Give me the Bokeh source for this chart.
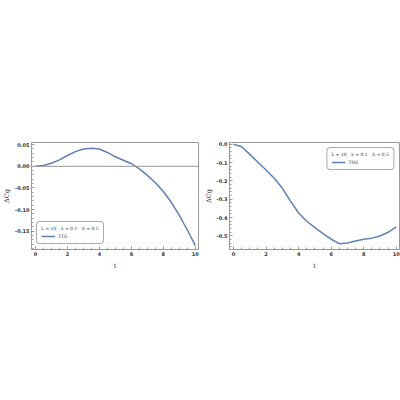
from bokeh.plotting import figure
from bokeh.layouts import row
from bokeh.models import Legend, LegendItem, Span, FixedTicker, PrintfTickFormatter, Range1d
from bokeh.embed import file_html
from bokeh.resources import INLINE

t = [0, 0.5, 1, 1.5, 2, 2.5, 3, 3.5, 4, 4.5, 5, 5.5, 6, 6.5, 7, 7.5, 8, 8.5, 9, 9.5, 10]
tts = [0, 0.002, 0.007, 0.015, 0.025, 0.034, 0.040, 0.042, 0.040, 0.032, 0.022, 0.014,
       0.006, -0.006, -0.021, -0.038, -0.058, -0.083, -0.113, -0.147, -0.183]
tns = [0, -0.013, -0.055, -0.098, -0.14, -0.185, -0.24, -0.31, -0.375, -0.42, -0.455,
       -0.487, -0.518, -0.542, -0.538, -0.528, -0.518, -0.512, -0.5, -0.48, -0.45]
x_ticks = [0, 2, 4, 6, 8, 10]
x_minor = [i * 0.5 for i in range(0, 21)]
left_yticks = [0.05, 0.0, -0.05, -0.10, -0.15]
left_yminor = [round(0.05 - 0.01 * i, 2) for i in range(0, 25)]
right_yticks = [0.0, -0.1, -0.2, -0.3, -0.4, -0.5]
right_yminor = [round(-0.02 * i, 2) for i in range(0, 29)]
legend_title = "L = 10   λ = 0.1   Δ = 0.5"

BLUE = "#5E81B5"
GRAY = "#999999"


def make(width, border_right, ys, yr, yticks, yminor, fmt, name, loc, hline):
    p = figure(width=width, height=272, output_backend="svg", toolbar_location=None,
               x_range=Range1d(-0.25, 10.2), y_range=Range1d(*yr),
               min_border_left=10, min_border_right=border_right,
               min_border_top=142, min_border_bottom=15)
    p.grid.visible = False
    p.outline_line_color = GRAY
    p.outline_line_width = 1
    for ax in (p.xaxis[0], p.yaxis[0]):
        ax.axis_line_color = GRAY
        ax.major_tick_line_color = GRAY
        ax.minor_tick_line_color = GRAY
        ax.major_tick_in = 3
        ax.major_tick_out = 0
        ax.minor_tick_in = 2
        ax.minor_tick_out = 0
        ax.major_label_text_font = "DejaVu Sans"
        ax.major_label_text_font_size = "5px"
        ax.major_label_text_font_style = "bold"
        ax.major_label_text_color = "#333333"
        ax.major_label_standoff = 2
        ax.axis_label_text_font = "DejaVu Serif"
        ax.axis_label_text_font_style = "normal"
        ax.axis_label_text_font_size = "6.5px"
        ax.axis_label_text_color = "#333333"
        ax.axis_label_standoff = 1
    p.xaxis.ticker = FixedTicker(ticks=x_ticks, minor_ticks=x_minor)
    p.yaxis.ticker = FixedTicker(ticks=yticks, minor_ticks=yminor)
    p.yaxis.formatter = PrintfTickFormatter(format=fmt)
    p.xaxis.axis_label = "t"
    p.xaxis.axis_label_standoff = 3
    p.yaxis.axis_label = "ΔCg"
    if hline:
        p.add_layout(Span(location=0, dimension="width", line_color=GRAY, line_width=1))
    r = p.line(t, ys, line_color=BLUE, line_width=1.5)
    leg = Legend(items=[LegendItem(label=name, renderers=[r])], location=loc,
                 title=legend_title, title_text_font="DejaVu Serif", title_text_font_size="4.5px",
                 title_text_font_style="normal", title_text_color="#333333", title_standoff=2,
                 label_text_font="DejaVu Serif", label_text_font_size="4.5px",
                 label_text_color="#333333",
                 label_height=6, glyph_height=6, glyph_width=14, label_standoff=3,
                 padding=4, spacing=0, margin=5,
                 border_line_color="#555555", border_line_width=1, border_radius=4,
                 background_fill_alpha=1)
    p.add_layout(leg)
    return p


p1 = make(201, 3, tts, (-0.192, 0.055), left_yticks, left_yminor, "%.2f", "TTS",
          "bottom_left", True)
p2 = make(199, 1, tns, (-0.574, 0.01), right_yticks, right_yminor, "%.1f", "TNS",
          "top_right", False)

layout = row(p1, p2)
open("out.html", "w").write(file_html(layout, INLINE))
